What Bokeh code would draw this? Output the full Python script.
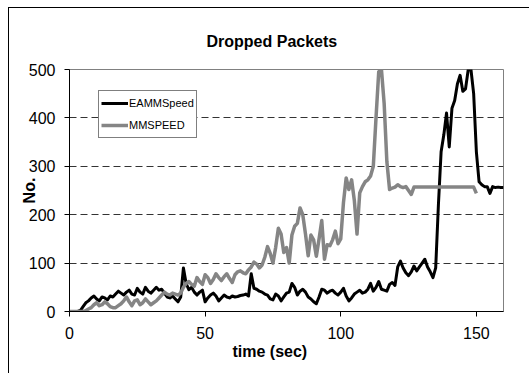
from bokeh.plotting import figure
from bokeh.models import Range1d, Legend, LegendItem, FixedTicker, Title
from bokeh.embed import file_html
from bokeh.resources import INLINE

# ---- data ----
time_eamm = list(range(0, 161))
eammspeed = [0, 0, 0, 0, 2, 10, 18, 22, 28, 32,
             26, 22, 30, 28, 24, 32, 30, 36, 42, 38,
             34, 40, 44, 36, 34, 48, 40, 36, 50, 42,
             38, 44, 50, 44, 46, 38, 30, 28, 32, 26,
             20, 30, 90, 58, 45, 50, 40, 34, 40, 44,
             20, 28, 34, 38, 32, 22, 28, 34, 30, 28,
             32, 30, 31, 33, 34, 36, 32, 78, 48, 46,
             42, 40, 36, 34, 26, 24, 36, 32, 22, 30,
             38, 40, 58, 50, 34, 42, 46, 40, 30, 26,
             20, 16, 30, 46, 44, 38, 42, 44, 38, 34,
             40, 48, 32, 22, 28, 36, 40, 44, 38, 40,
             46, 58, 42, 50, 62, 46, 44, 42, 56, 60,
             54, 92, 104, 90, 80, 74, 82, 94, 84, 92,
             100, 108, 92, 82, 70, 90, 220, 330, 365, 410,
             340, 420, 436, 470, 488, 455, 460, 500, 500, 450,
             330, 268, 262, 258, 258, 244, 258, 256, 257, 256,
             256]

time_mm = list(range(0, 151))
mmspeed = [0, 0, 0, 0, 0, 0, 2, 5, 8, 14,
           18, 12, 14, 20, 16, 10, 8, 8, 12, 16,
           22, 30, 20, 12, 22, 24, 14, 18, 26, 20,
           14, 18, 22, 28, 34, 40, 36, 34, 38, 36,
           34, 38, 50, 58, 62, 56, 52, 70, 62, 56,
           76, 70, 58, 66, 78, 70, 64, 72, 78, 68,
           60, 76, 82, 84, 80, 78, 86, 92, 102, 98,
           90, 96, 112, 134, 120, 100, 132, 172, 160, 122,
           132, 100, 158, 176, 182, 214, 200, 160, 115, 158,
           148, 114, 150, 188, 108, 138, 136, 148, 166, 140,
           150, 225, 276, 252, 272, 230, 160, 245, 258, 268,
           272, 280, 300, 400, 495, 500, 430, 310, 252, 255,
           257, 262, 258, 256, 258, 250, 242, 257, 257, 257,
           257, 257, 257, 257, 257, 257, 257, 257, 257, 257,
           257, 257, 257, 257, 257, 257, 257, 257, 257, 257,
           244]

x_ticks = [0, 50, 100, 150]
y_ticks = [0, 100, 200, 300, 400, 500]
grid_levels = [100, 200, 300, 400, 500]
series_names = ["EAMMSpeed", "MMSPEED"]
title_text = "Dropped Packets"
x_title = "time (sec)"
y_title = "No."

FONT = "Liberation Sans"

p = figure(width=521, height=366, output_backend="svg", toolbar_location=None,
           x_range=Range1d(0, 160), y_range=Range1d(0, 500),
           min_border_left=60, min_border_top=61, min_border_right=27,
           min_border_bottom=63)
p.styles = {"margin-left": "8px", "margin-top": "7px",
            "border-left": "1px solid black", "border-top": "1px solid black"}

# title
p.title.text = title_text
p.title.align = "left"
p.title.offset = 137
p.title.standoff = 40
p.title.text_font = FONT
p.title.text_font_size = "16px"
p.title.text_font_style = "bold"
p.title.text_color = "black"

p.outline_line_color = "#808080"
p.outline_line_width = 1

# grid
p.xgrid.visible = False
p.ygrid.ticker = FixedTicker(ticks=grid_levels)
p.ygrid.grid_line_color = "#333333"
p.ygrid.grid_line_dash = "7 4"
p.ygrid.grid_line_width = 1

# axes
for ax in (p.xaxis[0], p.yaxis[0]):
    ax.axis_line_color = "black"
    ax.axis_line_width = 1
    ax.major_tick_line_color = "black"
    ax.major_tick_out = 5
    ax.major_tick_in = 0
    ax.minor_tick_line_color = None
    ax.major_label_text_font = FONT
    ax.major_label_text_font_size = "16px"
    ax.major_label_text_color = "black"
p.xaxis.ticker = FixedTicker(ticks=x_ticks)
p.yaxis.ticker = FixedTicker(ticks=y_ticks)
p.xaxis.major_label_standoff = 10
p.yaxis.major_label_standoff = 9

# lines
r1 = p.line(time_eamm, eammspeed, line_color="black", line_width=3,
            line_join="round")
r2 = p.line(time_mm, mmspeed, line_color="#858585", line_width=3.5,
            line_join="round")

legend = Legend(items=[LegendItem(label=series_names[0], renderers=[r1]),
                       LegendItem(label=series_names[1], renderers=[r2])],
                location=(29, 173), orientation="vertical")
legend.label_text_font = FONT
legend.label_text_font_size = "11px"
legend.label_text_color = "black"
legend.border_line_color = "black"
legend.border_line_width = 1
legend.background_fill_color = "white"
legend.background_fill_alpha = 1
legend.padding = 2
legend.spacing = 2
legend.margin = 0
legend.glyph_width = 27
legend.glyph_height = 20
legend.label_height = 20
legend.label_standoff = 1
p.add_layout(legend)

# axis titles
xt = Title(text=x_title, align="left", offset=163, standoff=-2,
           text_font=FONT, text_font_size="16px", text_font_style="bold",
           text_color="black")
p.add_layout(xt, "below")
yt = Title(text=y_title, align="center", offset=0, standoff=-25,
           text_font=FONT, text_font_size="16px", text_font_style="bold",
           text_color="black")
p.add_layout(yt, "left")

open("out.html", "w").write(file_html(p, INLINE))
